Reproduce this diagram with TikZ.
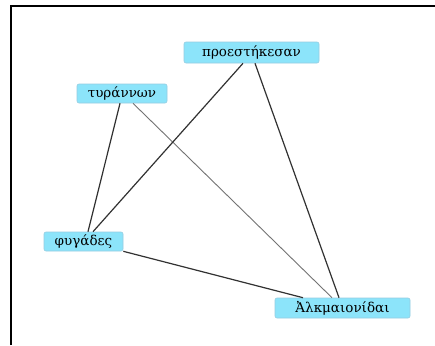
\documentclass[tikz,border=0pt]{standalone}
\usepackage{fontspec}
\setmainfont{DejaVu Serif}
\definecolor{boxfill}{RGB}{140,228,250}
\definecolor{boxline}{RGB}{150,205,225}
\definecolor{edgedark}{RGB}{50,50,50}
\definecolor{edgelight}{RGB}{115,115,115}
\begin{document}
\begin{tikzpicture}[x=1pt,y=-1pt,
  word/.style={draw=boxline, fill=boxfill, rounded corners=2pt, line width=0.6pt,
    inner sep=0pt, font=\fontsize{13.5}{14}\selectfont, text=black},
  link/.style={draw=edgedark, line width=1.2pt},
  faint/.style={draw=edgelight, line width=0.9pt}]
\useasboundingbox (0,0) rectangle (435,345);
\fill[white] (0,0) rectangle (435,345);
% frame on top and left
\draw[line width=2pt, black] (11,345) -- (11,6) -- (435,6);

\node[word, minimum width=135pt, minimum height=21pt] (pro) at (251.5,52.5) {προεστήκεσαν};
\node[word, minimum width=90pt, minimum height=19pt] (tyr) at (122,93.5) {τυράννων};
\node[word, minimum width=79pt, minimum height=19pt] (fyg) at (83.5,241.5) {φυγάδες};
\node[word, minimum width=135pt, minimum height=20pt] (alk) at (342.5,308) {Ἀλκμαιονίδαι};

\draw[link] ([xshift=-2pt]tyr.south) -- ([xshift=4.5pt]fyg.north);
\draw[faint] ([xshift=11pt]tyr.south) -- ([xshift=-10.5pt]alk.north);
\draw[link] ([xshift=-8.5pt]pro.south) -- ([xshift=9.5pt]fyg.north);
\draw[link] ([xshift=3.5pt]pro.south) -- ([xshift=-3.5pt]alk.north);
\draw[link] (fyg.south east) -- ([xshift=-39.5pt]alk.north);
\end{tikzpicture}
\end{document}
